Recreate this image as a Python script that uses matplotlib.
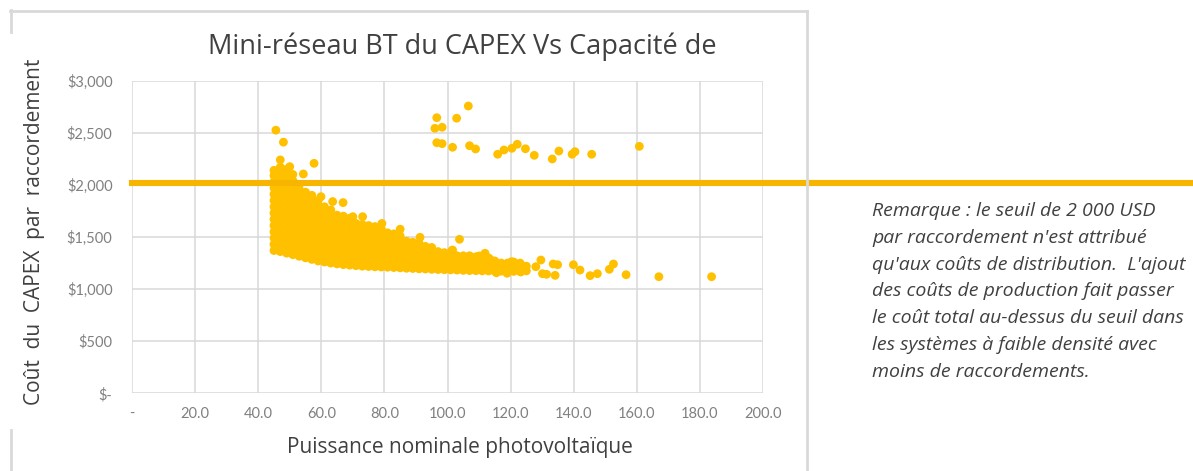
import numpy as np
import matplotlib
matplotlib.use("Agg")
import matplotlib.pyplot as plt
from matplotlib.lines import Line2D

# --- donnees ---
# noyau dense : une colonne de points par puissance (kW)
colonnes_kw = [45, 47, 49, 51, 53, 55, 57, 59, 61, 63, 65, 67, 69, 71, 73, 75, 77, 79,
               81, 83, 85, 87, 89, 91, 93, 95, 97, 99, 101, 103, 105, 107, 109, 111,
               113, 115, 117, 119, 121, 123, 125]
capex_colonnes = [
    [1370, 1430, 1490, 1550, 1610, 1670, 1730, 1790, 1850, 1910, 1970, 2030, 2090, 2140],
    [1360, 1400, 1460, 1520, 1580, 1640, 1700, 1760, 1820, 1880, 1940, 2000, 2060, 2120, 2170],
    [1345, 1400, 1460, 1520, 1580, 1640, 1700, 1760, 1820, 1880, 1940, 2000, 2060, 2110, 2150],
    [1330, 1380, 1440, 1500, 1560, 1620, 1680, 1740, 1800, 1860, 1920, 1980, 2040, 2100],
    [1315, 1370, 1430, 1490, 1550, 1610, 1670, 1730, 1790, 1850, 1910, 1960, 2000],
    [1300, 1350, 1410, 1470, 1530, 1590, 1650, 1710, 1770, 1830, 1890, 1930],
    [1285, 1340, 1400, 1460, 1520, 1580, 1640, 1700, 1760, 1820, 1870, 1900],
    [1270, 1320, 1380, 1440, 1500, 1560, 1620, 1680, 1740, 1800, 1850],
    [1260, 1310, 1370, 1430, 1490, 1550, 1610, 1670, 1730, 1790],
    [1250, 1300, 1360, 1420, 1480, 1540, 1600, 1660, 1720, 1760],
    [1242, 1290, 1350, 1410, 1470, 1530, 1590, 1650, 1710],
    [1235, 1280, 1340, 1400, 1460, 1520, 1580, 1640, 1700],
    [1230, 1280, 1340, 1400, 1460, 1520, 1580, 1640, 1680],
    [1225, 1270, 1330, 1390, 1450, 1510, 1570, 1630],
    [1220, 1270, 1330, 1390, 1450, 1510, 1570, 1620],
    [1217, 1260, 1320, 1380, 1440, 1500, 1560, 1610],
    [1214, 1260, 1320, 1380, 1440, 1500, 1560, 1600],
    [1212, 1250, 1310, 1370, 1430, 1490, 1550, 1580],
    [1210, 1250, 1310, 1370, 1430, 1490, 1540],
    [1207, 1250, 1310, 1370, 1430, 1490, 1530],
    [1204, 1250, 1310, 1370, 1430, 1480, 1510],
    [1200, 1240, 1300, 1360, 1420, 1460],
    [1198, 1240, 1300, 1360, 1410, 1450],
    [1195, 1240, 1300, 1360, 1410, 1440],
    [1193, 1240, 1300, 1360, 1410],
    [1190, 1240, 1300, 1350, 1400],
    [1188, 1240, 1300, 1360],
    [1186, 1240, 1300, 1350],
    [1185, 1230, 1280, 1330],
    [1183, 1230, 1280, 1320],
    [1180, 1230, 1280, 1320],
    [1178, 1225, 1275, 1320],
    [1177, 1225, 1270, 1310],
    [1175, 1220, 1270, 1320],
    [1174, 1220, 1265, 1300],
    [1173, 1220, 1270],
    [1172, 1210, 1250],
    [1171, 1210, 1250],
    [1170, 1215, 1260],
    [1172, 1210, 1250],
    [1175, 1220],
]

# points isoles autour du noyau
bord_kw = [45.6, 48.0, 57.7, 54.3, 47.0, 50.0, 59.9, 63.6, 66.9, 70.0, 73.1, 79.2, 85.0,
           91.3, 101.4, 103.8, 101.6, 110.0, 111.9, 113.5]
bord_capex = [2525, 2410, 2207, 2105, 2240, 2175, 1887, 1840, 1830, 1695, 1695, 1630, 1575,
              1497, 1370, 1478, 1375, 1318, 1344, 1286]

# queue a droite
queue_kw = [115.5, 118.9, 120.3, 123.2, 124.6, 128.0, 129.6, 130.1, 131.4, 133.5, 134.1,
            134.9, 139.9, 142.0, 145.2, 147.5, 151.3, 152.6, 156.6, 167.0, 183.7]
queue_capex = [1157, 1152, 1263, 1164, 1215, 1215, 1279, 1148, 1142, 1241, 1132,
               1234, 1234, 1183, 1129, 1148, 1190, 1241, 1138, 1119, 1119]

# groupe haut
haut_kw = [96.6, 102.9, 106.6, 96.0, 98.3, 96.6, 98.3, 101.6, 107.0, 108.9, 115.9, 117.9,
           120.4, 122.1, 124.7, 127.5, 133.2, 135.3, 139.5, 140.4, 145.7, 160.8]
haut_capex = [2645, 2640, 2757, 2543, 2553, 2405, 2396, 2361, 2376, 2345, 2294, 2335,
              2351, 2390, 2347, 2284, 2249, 2325, 2294, 2319, 2294, 2370]

seuil = 2020

x_ticks = [0, 20, 40, 60, 80, 100, 120, 140, 160, 180, 200]
x_labels = ["-", "20.0", "40.0", "60.0", "80.0", "100.0", "120.0", "140.0", "160.0", "180.0", "200.0"]
y_ticks = [0, 500, 1000, 1500, 2000, 2500, 3000]
y_labels = ["$-", "$500", "$1,000", "$1,500", "$2,000", "$2,500", "$3,000"]

note = ("Remarque : le seuil de 2 000 USD\n"
        "par raccordement n'est attribué\n"
        "qu'aux coûts de distribution.  L'ajout\n"
        "des coûts de production fait passer\n"
        "le coût total au-dessus du seuil dans\n"
        "les systèmes à faible densité avec\n"
        "moins de raccordements.")

# --- construction des series ---
xs, ys = [], []
for xk, col in zip(colonnes_kw, capex_colonnes):
    for v in col:
        xs.append(xk)
        ys.append(v)
xs += bord_kw + queue_kw + haut_kw
ys += bord_capex + queue_capex + haut_capex

plt.rcParams['font.family'] = ['Open Sans', 'DejaVu Sans']
W, H = 1193, 471
fig = plt.figure(figsize=(W / 100, H / 100), dpi=100)
ax = fig.add_axes([132 / W, 1 - 393.3 / H, 631 / W, 312.6 / H])

ax.scatter(xs, ys, s=40, color='#FFC000', edgecolors='none', zorder=3)
ax.axhline(seuil, xmin=0, xmax=(1193 - 132) / 631, color='#F7B500', lw=4.4,
           clip_on=False, zorder=4)

ax.set_xlim(0, 200)
ax.set_ylim(0, 3000)
ax.set_xticks(x_ticks)
ax.set_xticklabels(x_labels)
ax.set_yticks(y_ticks)
ax.set_yticklabels(y_labels)
ax.tick_params(length=0, labelsize=10.5, labelcolor='#808080')
for lab in ax.get_xticklabels() + ax.get_yticklabels():
    lab.set_family(['Lato', 'DejaVu Sans'])
ax.tick_params(axis='y', pad=14)
ax.tick_params(axis='x', pad=10)
ax.grid(True, color='#d9d9d9', lw=1.1, zorder=0)
ax.set_axisbelow(True)
for sp in ax.spines.values():
    sp.set_visible(False)

fig.text(462 / W, 1 - 47 / H, "Mini-réseau BT du CAPEX Vs Capacité de", ha='center', va='center',
         fontsize=19.5, color='#404040')
fig.text(460 / W, 1 - 447 / H, "Puissance nominale photovoltaïque", ha='center', va='center',
         fontsize=15, color='#404040')
fig.text(35 / W, 1 - 232 / H, "Coût  du  CAPEX  par  raccordement", ha='center', va='center',
         rotation=90, fontsize=15, color='#404040')
fig.text(872 / W, 1 - 202 / H, note, ha='left', va='top', fontsize=14, style='italic',
         color='#404040', linespacing=1.63)

# cadre gris du graphique
gris = '#d9d9d9'
fig.add_artist(Line2D([10 / W, 807 / W], [1 - 11 / H, 1 - 11 / H], color=gris, lw=2))
fig.add_artist(Line2D([807 / W, 807 / W], [1 - 11 / H, 0], color=gris, lw=2))
fig.add_artist(Line2D([11 / W, 11 / W], [1 - 10 / H, 1 - 32 / H], color=gris, lw=2))
fig.add_artist(Line2D([11 / W, 11 / W], [1 - 430 / H, 0], color=gris, lw=2))

fig.savefig("out.png", dpi=100)
